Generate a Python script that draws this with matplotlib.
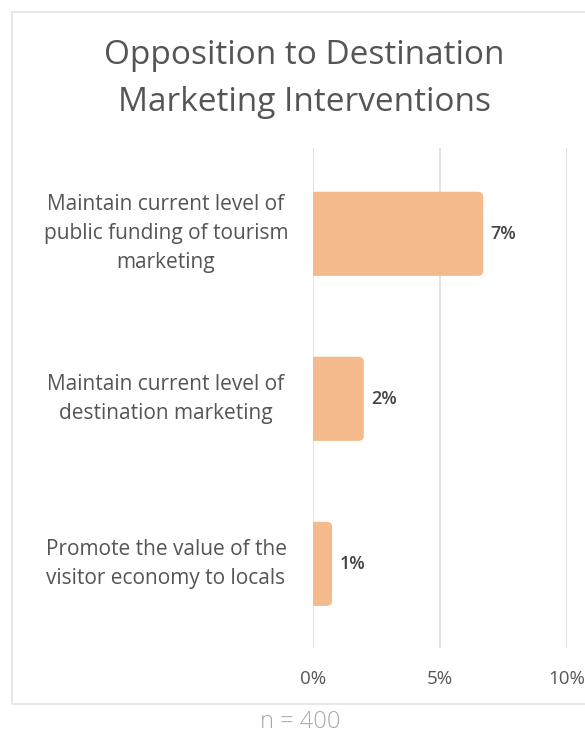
import matplotlib
matplotlib.use('Agg')
import matplotlib.pyplot as plt
from matplotlib.patches import FancyBboxPatch, Rectangle
from matplotlib.transforms import blended_transform_factory

plt.rcParams['font.family'] = ['Open Sans', 'DejaVu Sans']

title = "Opposition to Destination\nMarketing Interventions"
categories = ["Maintain current level of\npublic funding of tourism\nmarketing",
              "Maintain current level of\ndestination marketing",
              "Promote the value of the\nvisitor economy to locals"]
values = [6.7, 2.0, 0.75]          # percent of respondents
xticks = [0, 5, 10]
note = "n = 400"

W, H = 585, 738
fig = plt.figure(figsize=(W / 100, H / 100), dpi=100)

# card outline
fig.patches.append(Rectangle((12 / W, 1 - 704 / H), 1.0, (704 - 12) / H,
                             transform=fig.transFigure, fill=False,
                             edgecolor='#e3e3e3', linewidth=1.2))

ax = fig.add_axes([313 / W, 1 - 648 / H, (567 - 313) / W, (648 - 148) / H])
ax.set_xlim(0, 10)
ax.set_ylim(2.51, -0.52)

bars = ax.barh(range(len(values)), values, height=0.51, color='none')
r = 0.22
for b, v in zip(bars, values):
    x0, y0 = b.get_x(), b.get_y()
    h = b.get_height()
    # start left of zero so only the right corners show rounded
    p = FancyBboxPatch((x0 - r, y0), v + r, h,
                       boxstyle=f"round,pad=0,rounding_size={r}",
                       mutation_aspect=0.14,
                       facecolor='#f5ba8c', edgecolor='none', zorder=3)
    ax.add_patch(p)
    ax.text(v + 0.3, b.get_y() + h / 2, f"{v:.0f}%", va='center', ha='left',
            fontsize=13, color='#444444', fontweight='semibold')

ax.set_xticks(xticks)
ax.set_xticklabels([f"{t}%" for t in xticks], fontsize=13.5, color='#555555')
ax.tick_params(axis='x', length=0, pad=16)
ax.set_yticks([])
ax.grid(axis='x', color='#dddddd', linewidth=1.2, zorder=0)
ax.set_axisbelow(True)
for s in ax.spines.values():
    s.set_visible(False)

lab_tr = blended_transform_factory(fig.transFigure, ax.transData)
for i, c in enumerate(categories):
    ax.text(166 / W, i, c, transform=lab_tr, ha='center', va='center',
            fontsize=15, color='#555555', linespacing=1.5)

fig.text(304 / W, 1 - 79 / H, title, ha='center', va='center', fontsize=24,
         color='#555555', linespacing=1.55)
fig.text(300 / W, 1 - 722 / H, note, ha='center', va='center', fontsize=17,
         color='#aaaaaa', fontweight='light')

fig.savefig('out.png', dpi=100)
